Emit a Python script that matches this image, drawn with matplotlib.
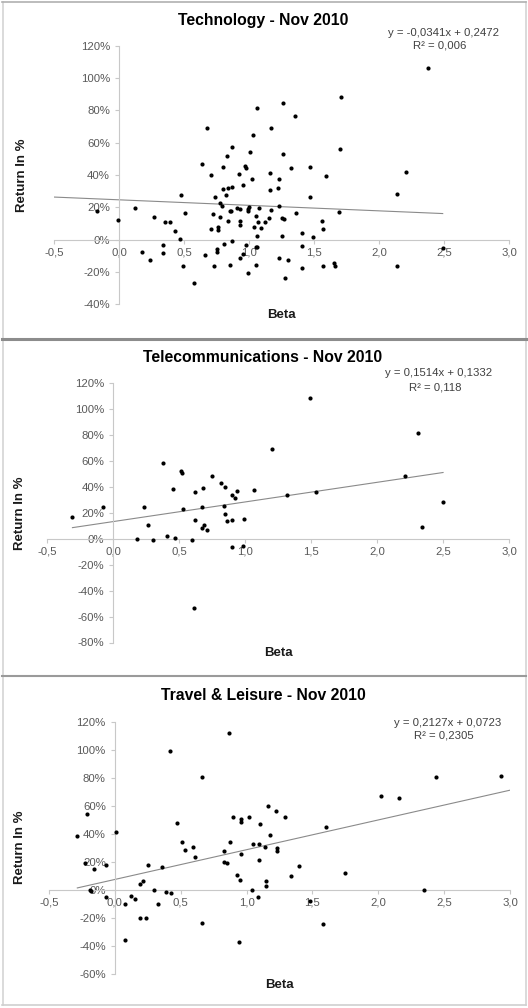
import matplotlib
matplotlib.use("Agg")
import matplotlib.pyplot as plt
from matplotlib.ticker import FixedLocator, FuncFormatter
from matplotlib.lines import Line2D

plt.rcParams['font.family'] = ['Liberation Sans', 'DejaVu Sans']

W, H = 528, 1008

# ---- data -------------------------------------------------------------
x_ticks = [-0.5, 0.0, 0.5, 1.0, 1.5, 2.0, 2.5, 3.0]
x_tick_labels = ["-0,5", "0,0", "0,5", "1,0", "1,5", "2,0", "2,5", "3,0"]

tech_beta = [2.38, 1.71, 1.26, 1.06, 1.35, 0.68, 1.17, 1.03, 0.87, 1.70, 0.83, 1.01, 1.26,
             0.64, 0.80, 0.97, 0.98, 1.32, 1.47, 0.71, 0.92, 1.02, 1.16, 1.23, 1.59, 2.21,
             0.80, 0.84, 0.87, 0.95, 1.16, 1.22, 0.48, 0.74, 0.82, 2.14, 1.47, 0.78, 0.79,
             1.23, -0.17, 0.12, 0.91, 0.93, 0.99, 1.00, 1.08, 0.85, 0.86, 1.17, 0.99, 1.69,
             0.51, 0.72, 0.78, 1.36, 1.05, 1.15, 1.25, 1.27, -0.005, 0.27, 0.84, 0.93, 0.93,
             1.07, 1.12, 0.35, 0.39, 1.56, 1.04, 1.09, 0.76, 0.71, 0.76, 1.57, 0.43, 1.41,
             1.06, 1.25, 1.49, 0.47, 0.87, 0.34, 0.81, 0.98, 1.05, 1.06, 1.41, 2.49, 0.75,
             0.75, 0.18, 0.34, 0.66, 0.95, 0.93, 1.23, 1.30, 0.24, 1.65, 1.66, 0.49, 0.73,
             0.85, 1.05, 1.57, 1.41, 2.14, 0.99, 1.28, 0.58]
tech_return = [1.065, 0.885, 0.844, 0.815, 0.765, 0.69, 0.69, 0.646, 0.576, 0.561, 0.52, 0.54,
               0.53, 0.468, 0.45, 0.458, 0.446, 0.446, 0.45, 0.40, 0.404, 0.375, 0.412, 0.375,
               0.396, 0.421, 0.311, 0.318, 0.326, 0.34, 0.31, 0.318, 0.276, 0.266, 0.276,
               0.282, 0.264, 0.225, 0.208, 0.208, 0.177, 0.198, 0.198, 0.192, 0.188, 0.202,
               0.198, 0.181, 0.177, 0.183, 0.177, 0.173, 0.167, 0.157, 0.144, 0.163, 0.146,
               0.134, 0.134, 0.13, 0.124, 0.142, 0.115, 0.115, 0.093, 0.109, 0.111, 0.109,
               0.109, 0.115, 0.082, 0.074, 0.08, 0.064, 0.059, 0.068, 0.053, 0.045, 0.022,
               0.022, 0.019, 0.002, -0.006, -0.033, -0.029, -0.033, -0.043, -0.043, -0.04,
               -0.052, -0.058, -0.077, -0.074, -0.083, -0.093, -0.087, -0.11, -0.114, -0.122,
               -0.126, -0.142, -0.159, -0.159, -0.159, -0.155, -0.155, -0.159, -0.173, -0.165,
               -0.204, -0.235, -0.266]

tele_beta = [1.49, 2.31, 1.20, 0.38, 0.51, 0.52, 0.75, 2.21, 0.82, 0.85, 0.45, 0.68, 0.62,
             0.94, 1.07, 1.54, 0.90, 0.92, 1.32, 2.50, -0.08, 0.23, -0.31, 0.53, 0.67, 0.84,
             0.85, 0.86, 0.62, 0.90, 0.99, 0.26, 0.69, 0.67, 0.71, 2.34, 0.18, 0.30, 0.41,
             0.47, 0.60, 0.90, 0.98, 0.61]
tele_return = [1.083, 0.818, 0.694, 0.588, 0.524, 0.507, 0.483, 0.486, 0.429, 0.398, 0.383,
               0.393, 0.36, 0.372, 0.378, 0.362, 0.337, 0.318, 0.339, 0.283, 0.244, 0.244,
               0.167, 0.228, 0.249, 0.256, 0.19, 0.136, 0.144, 0.146, 0.156, 0.107, 0.107,
               0.082, 0.071, 0.094, -0.001, -0.006, 0.02, 0.007, -0.011, -0.06, -0.055, -0.536]

travel_beta = [0.87, 0.42, 0.665, 2.44, 2.93, 2.02, 2.16, 1.16, 1.22, -0.21, 0.90, 0.96, 0.96,
               1.02, 1.29, 0.475, 1.10, 1.60, -0.285, 0.01, 1.18, 0.51, 0.59, 0.53, 0.61,
               0.875, 1.05, 1.095, 1.14, 1.23, 1.23, 0.83, 0.96, -0.23, -0.07, 0.255, -0.16,
               0.83, 0.855, 1.095, 0.36, 1.40, 1.75, 0.925, 1.34, 0.95, 1.15, 1.15, 0.21, 0.19,
               1.045, 0.30, -0.19, -0.18, 0.39, 0.425, 2.35, -0.07, 0.12, 0.15, 1.09, 0.076,
               0.33, 1.48, 0.19, 0.24, 0.66, 1.58, 0.08, 0.94]
travel_return = [1.12, 0.993, 0.807, 0.805, 0.814, 0.669, 0.657, 0.60, 0.56, 0.54, 0.521,
                 0.502, 0.48, 0.521, 0.517, 0.476, 0.471, 0.447, 0.383, 0.414, 0.388, 0.34,
                 0.306, 0.283, 0.233, 0.342, 0.323, 0.323, 0.306, 0.295, 0.278, 0.275, 0.252,
                 0.187, 0.175, 0.178, 0.149, 0.197, 0.187, 0.213, 0.159, 0.166, 0.118, 0.101,
                 0.097, 0.066, 0.063, 0.023, 0.061, 0.039, -0.004, -0.004, -0.004, -0.013,
                 -0.018, -0.027, -0.004, -0.052, -0.044, -0.07, -0.056, -0.104, -0.102, -0.082,
                 -0.206, -0.204, -0.242, -0.247, -0.361, -0.373]

# regression coefficients (slope, intercept), R², span of the fitted line
tech_fit = (-0.0341, 0.2472)
tech_r2 = "0,006"
tech_span = [-0.5, 2.49]
tele_fit = (0.1514, 0.1332)
tele_r2 = "0,118"
tele_span = [-0.31, 2.50]
travel_fit = (0.2127, 0.0723)
travel_r2 = "0,2305"
travel_span = [-0.285, 3.0]

tech_yticks = [-0.4, -0.2, 0.0, 0.2, 0.4, 0.6, 0.8, 1.0, 1.2]
tele_yticks = [-0.8, -0.6, -0.4, -0.2, 0.0, 0.2, 0.4, 0.6, 0.8, 1.0, 1.2]
travel_yticks = [-0.6, -0.4, -0.2, 0.0, 0.2, 0.4, 0.6, 0.8, 1.0, 1.2]

panels = [
    dict(title="Technology - Nov 2010", beta=tech_beta, ret=tech_return, fit=tech_fit,
         r2=tech_r2, span=tech_span, yticks=tech_yticks,
         box=(54, 509, 45.7, 304.5), title_y=20, eq=(444, 33, 46), xlab_y=315, ylab_x=22),
    dict(title="Telecommunications - Nov 2010", beta=tele_beta, ret=tele_return, fit=tele_fit,
         r2=tele_r2, span=tele_span, yticks=tele_yticks,
         box=(47.4, 509, 383.3, 642.5), title_y=357, eq=(439, 373, 387), xlab_y=653, ylab_x=20),
    dict(title="Travel & Leisure - Nov 2010", beta=travel_beta, ret=travel_return, fit=travel_fit,
         r2=travel_r2, span=travel_span, yticks=travel_yticks,
         box=(49, 510, 721.7, 973.5), title_y=696, eq=(448, 722.7, 736), xlab_y=985, ylab_x=20),
]

fig = plt.figure(figsize=(W / 100, H / 100), dpi=100, facecolor="white")


def fx(px):
    return px / W


def fy(py):
    return 1 - py / H


axis_col = "#c8c8c8"
label_col = "#595959"

for p in panels:
    left, right, top, bottom = p["box"]
    ax = fig.add_axes([fx(left), fy(bottom), (right - left) / W, (bottom - top) / H])
    ax.set_facecolor("none")
    ax.set_xlim(-0.5, 3.0)
    ax.set_ylim(p["yticks"][0], p["yticks"][-1])
    for s in ("top", "right"):
        ax.spines[s].set_visible(False)
    ax.spines["left"].set_position(("data", 0))
    ax.spines["bottom"].set_position(("data", 0))
    for s in ("left", "bottom"):
        ax.spines[s].set_color(axis_col)
        ax.spines[s].set_linewidth(0.8)
    ax.xaxis.set_major_locator(FixedLocator(x_ticks))
    ax.set_xticklabels(x_tick_labels)
    ax.yaxis.set_major_locator(FixedLocator(p["yticks"]))
    ax.yaxis.set_major_formatter(FuncFormatter(lambda v, pos: f"{round(v * 100)}%"))
    ax.tick_params(axis="both", colors=axis_col, labelcolor=label_col, labelsize=8.2,
                   length=3, width=0.8, direction="out")
    ax.tick_params(axis="y", pad=3.5)
    ax.tick_params(axis="x", pad=2.5)

    ax.scatter(p["beta"], p["ret"], s=9, color="black", zorder=3, linewidths=0)
    slope, icpt = p["fit"]
    xs = p["span"]
    ax.plot(xs, [slope * x + icpt for x in xs], color="#8a8a8a", lw=0.8, zorder=2)

    cx = (left + right) / 2
    fig.text(fx(263), fy(p["title_y"]), p["title"], ha="center", va="center",
             fontsize=11.3, fontweight="bold", color="black")
    fig.text(fx(cx), fy(p["xlab_y"]), "Beta", ha="center", va="center",
             fontsize=9.5, fontweight="bold", color="#1a1a1a")
    fig.text(fx(p["ylab_x"]), fy((top + bottom) / 2), "Return In %", ha="center",
             va="center", rotation=90, fontsize=9.5, fontweight="bold", color="#1a1a1a")
    sign = "-" if slope < 0 else ""
    eq = f"y = {sign}{abs(slope):.4f}x + {icpt:.4f}".replace(".", ",")
    ex, ey1, ey2 = p["eq"]
    fig.text(fx(ex), fy(ey1), eq, ha="center", va="center", fontsize=8.2, color="#404040")
    fig.text(fx(ex - 4), fy(ey2), f"R² = {p['r2']}", ha="center", va="center",
             fontsize=8.2, color="#404040")

# chart-area frames and separators
frame = [
    ((2.5, 2.5), (1.5, 1005), "#d4d4d4", 1.2),
    ((525.5, 525.5), (1.5, 1005), "#d4d4d4", 1.2),
    ((2, 526), (1.5, 1.5), "#b0b0b0", 1.2),
    ((2, 526), (339, 339), "#8c8c8c", 2.2),
    ((2, 526), (676, 676), "#9a9a9a", 1.5),
    ((2, 526), (1005, 1005), "#d0d0d0", 1.2),
]
for xs_, ys_, c, lw in frame:
    fig.add_artist(Line2D([fx(v) for v in xs_], [fy(v) for v in ys_], color=c, lw=lw))

fig.savefig("out.png", dpi=100, facecolor="white")
